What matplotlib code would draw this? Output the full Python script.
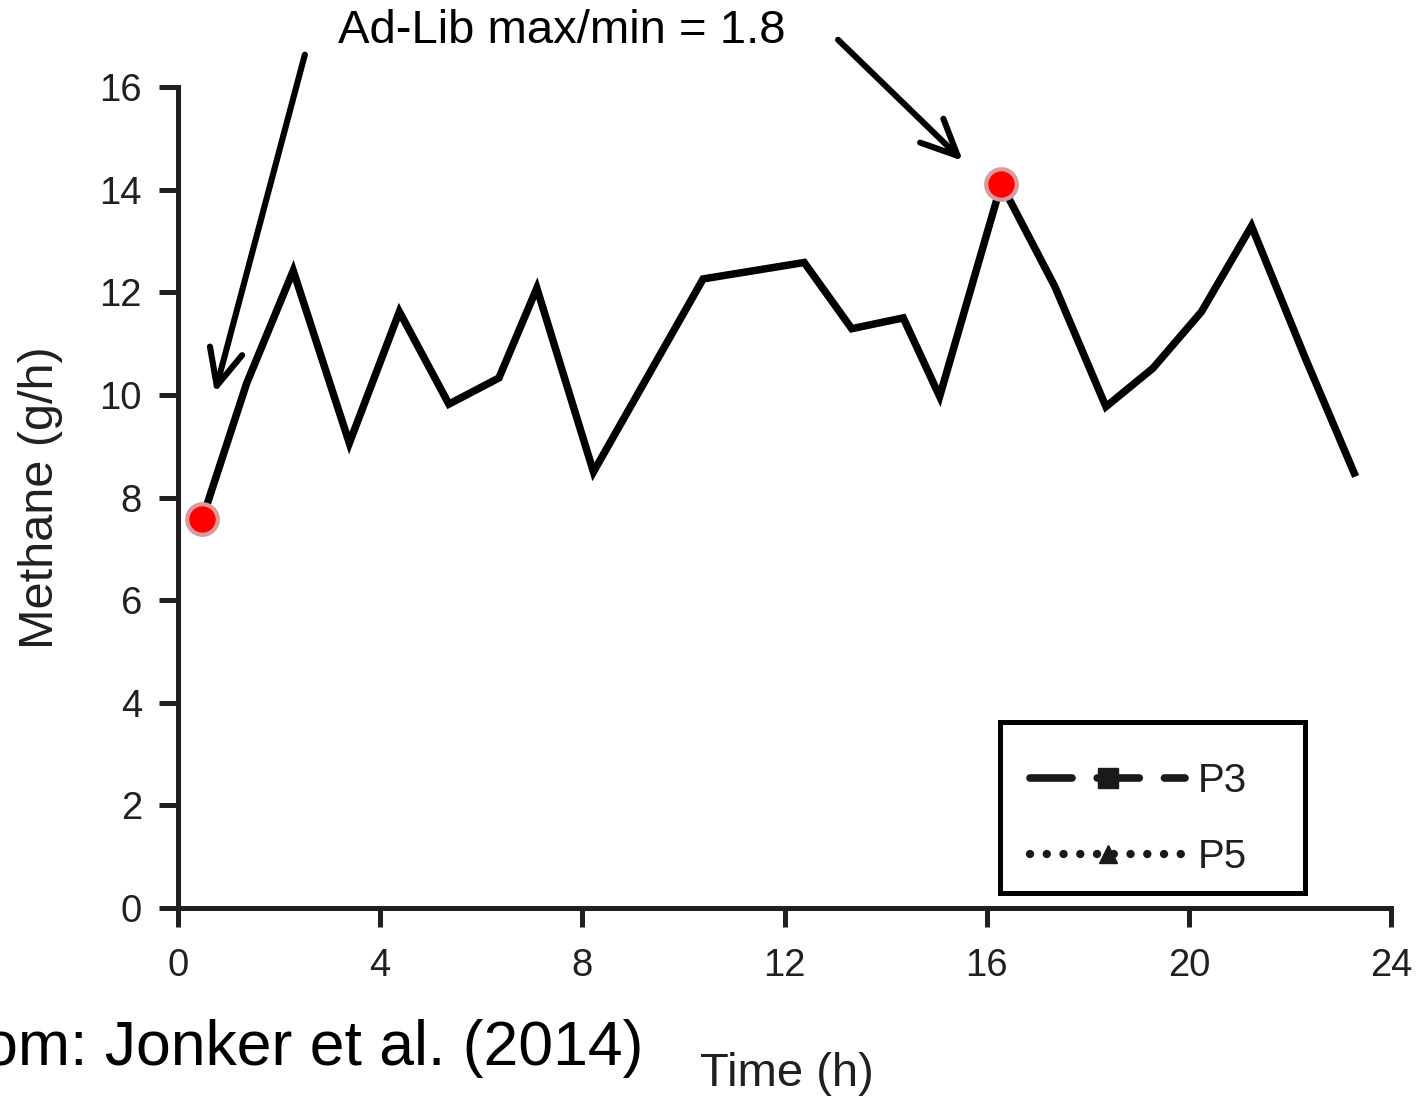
import matplotlib

matplotlib.use("Agg")
import matplotlib.pyplot as plt  # noqa: E402
import numpy as np  # noqa: E402
from matplotlib.lines import Line2D  # noqa: E402
from matplotlib.patches import Rectangle  # noqa: E402

plt.rcParams.update({
    "font.family": ["Liberation Sans", "DejaVu Sans"],
    "axes.spines.top": False,
    "axes.spines.right": False,
})

# values (Ad-Lib methane over one day)
time_h = [0.48, 1.36, 2.28, 3.39, 4.38, 5.36, 6.35, 7.10, 8.22, 10.39, 12.39,
          13.33, 14.35, 15.07, 16.29, 17.35, 18.36, 19.29, 20.25, 21.24,
          22.29, 23.30]
methane = [7.58, 10.23, 12.42, 9.06, 11.62, 9.82, 10.33, 12.08, 8.50, 12.26,
           12.58, 11.29, 11.50, 9.97, 14.11, 12.11, 9.77, 10.52, 11.62, 13.29,
           10.75, 8.41]
x_ticks = [0, 4, 8, 12, 16, 20, 24]
y_ticks = [0, 2, 4, 6, 8, 10, 12, 14, 16]
legend_labels = ["P3", "P5"]

INK = "#231f20"
W, H = 1419, 1098

fig = plt.figure(figsize=(W / 100, H / 100), dpi=100)
ax = fig.add_axes([178 / W, 1 - 908 / H, 1213 / W, 821 / H])

ax.plot(time_h, methane, color="black", lw=5.4, solid_joinstyle="miter",
        solid_capstyle="butt", zorder=3)

i_min, i_max = int(np.argmin(methane)), int(np.argmax(methane))
ax.plot([time_h[i_min], time_h[i_max]], [methane[i_min], methane[i_max]],
        ls="none", marker="o", ms=22, mfc="#ff0000", mec="#d99a9a",
        mew=3.0, zorder=4, clip_on=False)

ax.set_xlim(0, 24)
ax.set_ylim(0, 16)
ax.set_xticks(x_ticks)
ax.set_yticks(y_ticks)
for side in ("left", "bottom"):
    ax.spines[side].set_linewidth(3.6)
    ax.spines[side].set_color(INK)
ax.tick_params(axis="both", length=14, width=3.6, color=INK, labelsize=27.5,
               labelcolor=INK)
ax.tick_params(axis="x", pad=15)
ax.tick_params(axis="y", pad=12)

ax.set_ylabel("Methane (g/h)", fontsize=35, color=INK)
ax.yaxis.set_label_coords(-0.095, 0.5)
ax.set_xlabel("Time (h)", fontsize=34, color=INK)
ax.xaxis.set_label_coords(0.502, -0.175)

# annotation: arrows from the caption to min and max points
arrow = dict(arrowstyle="->,head_length=1.3,head_width=0.6", lw=4.4,
             color="black", shrinkA=0, shrinkB=0, mutation_scale=20)
ax.annotate("", xy=(0.73, 10.04), xytext=(2.51, 16.63), arrowprops=arrow,
            annotation_clip=False)
ax.annotate("", xy=(15.53, 14.56), xytext=(13.06, 16.92), arrowprops=arrow,
            annotation_clip=False)
fig.text(338 / W, 1 - 43 / H, "Ad-Lib max/min = 1.8", fontsize=34,
         va="baseline", ha="left")

fig.text(643 / W, 1 - 1065 / H, "From: Jonker et al. (2014)", fontsize=45,
         va="baseline", ha="right")

# legend from the original figure
handles = [
    Line2D([], [], color="#1a1a1a", lw=5.5, ls=(0, (5.5, 3.3)),
           dash_capstyle="round", marker="s", ms=14),
    Line2D([], [], color="#1a1a1a", lw=6, ls=(0, (0.01, 2.0)),
           dash_capstyle="round", marker="^", ms=13),
]
leg = ax.legend(handles, legend_labels, loc="upper left",
                bbox_to_anchor=(1030 / W, 1 - 762 / H),
                bbox_transform=fig.transFigure, frameon=False, fontsize=29,
                handlelength=3.85, handletextpad=0.32, borderpad=0,
                labelspacing=0.95, numpoints=1, borderaxespad=0)
for t in leg.get_texts():
    t.set_color(INK)
fig.patches.append(Rectangle((1000 / W, 1 - 893 / H), 305 / W, 171 / H,
                             transform=fig.transFigure, fill=False, lw=3.6,
                             ec="black"))

fig.savefig("out.png", dpi=100)
